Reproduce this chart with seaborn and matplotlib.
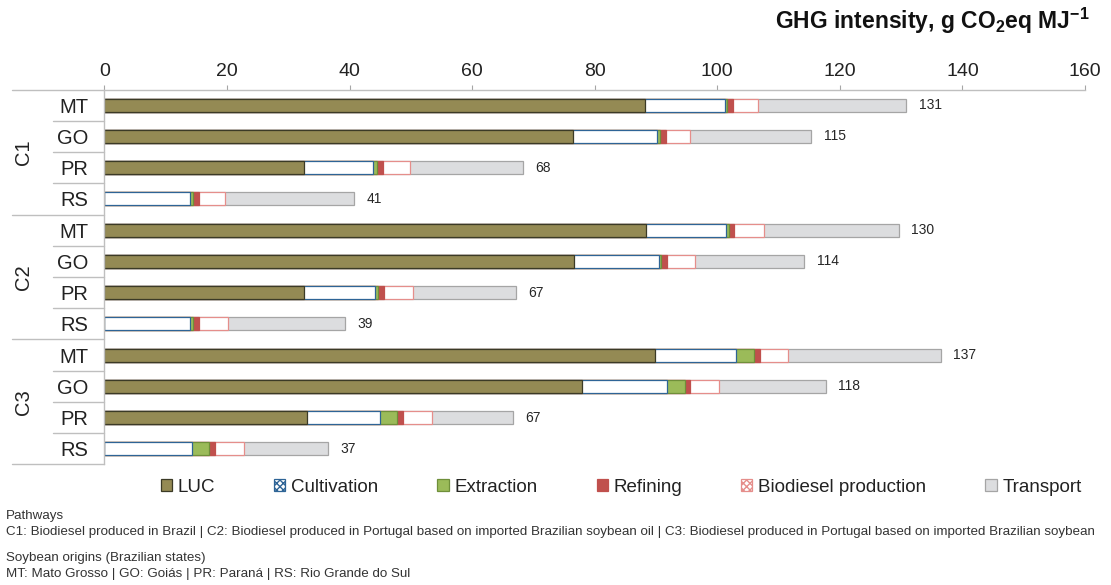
import matplotlib
matplotlib.use("Agg")
import matplotlib.pyplot as plt
from matplotlib.patches import Patch
from matplotlib.transforms import blended_transform_factory
import pandas as pd
import seaborn as sns

# pathways and soybean origins (rows top to bottom)
pathways = ["C1", "C2", "C3"]
states = ["MT", "GO", "PR", "RS"]

# GHG contributions per stage, g CO2eq/MJ
luc = [88.2, 76.5, 32.5, 0.0, 88.4, 76.7, 32.6, 0.0, 89.8, 77.9, 33.1, 0.0]
cultivation = [13.0, 13.6, 11.4, 14.0, 13.0, 13.8, 11.6, 14.0, 13.3, 13.9, 11.8, 14.3]
extraction = [0.4, 0.5, 0.5, 0.4, 0.5, 0.3, 0.4, 0.4, 2.9, 2.9, 2.9, 2.8]
refining = [1.0, 1.0, 1.0, 1.1, 0.9, 1.0, 1.0, 1.0, 0.9, 0.9, 0.9, 1.0]
biodiesel = [4.1, 4.0, 4.4, 4.1, 4.8, 4.6, 4.7, 4.7, 4.6, 4.7, 4.7, 4.7]
transport = [24.1, 19.7, 18.5, 21.1, 22.0, 17.8, 16.8, 19.2, 25.0, 17.4, 13.3, 13.7]
totals = [131, 115, 68, 41, 130, 114, 67, 39, 137, 118, 67, 37]

stages = ["LUC", "Cultivation", "Extraction", "Refining", "Biodiesel production", "Transport"]
face = ["#948A54", "white", "#9BBB59", "#C0504D", "white", "#DCDDDF"]
edge = ["#3B3A26", "#2E6496", "#6F8F3A", "#C0504D", "#E58E8B", "#A5A5A5"]
hatch = [None, "xxxxx", None, None, "xxxxx", None]

rows = [p + "-" + s for p in pathways for s in states]
df = pd.DataFrame({"row": rows, "LUC": luc, "Cultivation": cultivation,
                   "Extraction": extraction, "Refining": refining,
                   "Biodiesel production": biodiesel, "Transport": transport})
cum = df[stages].cumsum(axis=1)

sns.set_style("white")
plt.rcParams["font.family"] = ["Liberation Sans", "DejaVu Sans"]
plt.rcParams["mathtext.fontset"] = "custom"
plt.rcParams["mathtext.rm"] = "Liberation Sans"
plt.rcParams["mathtext.bf"] = "Liberation Sans:bold"

fig = plt.figure(figsize=(11.11, 5.85), dpi=100)
ax = fig.add_axes([0.094, 0.206, 0.8826, 0.641])

# stacked bars: draw the cumulative sums from the longest down
for i in reversed(range(len(stages))):
    sns.barplot(x=cum[stages[i]], y=df["row"], order=rows, orient="h",
                color=face[i], edgecolor=edge[i], linewidth=0.9,
                saturation=1, width=0.42, errorbar=None, ax=ax)

ax.bar_label(ax.containers[0], labels=[str(t) for t in totals],
             padding=9, fontsize=10, color="#262626")

ax.set_xticks(range(0, 161, 20))
ax.xaxis.tick_top()
ax.tick_params(axis="x", top=True, bottom=False, length=3.5, color="#A6A6A6",
               labelsize=14, pad=3, labelcolor="#222222")
ax.set_yticks(range(len(rows)), labels=states * len(pathways))
ax.tick_params(axis="y", left=False, labelsize=14.5, pad=8, labelcolor="#222222")
ax.set_xlabel("")
ax.set_ylabel("")
for s in ["right", "bottom"]:
    ax.spines[s].set_visible(False)
for s in ["top", "left"]:
    ax.spines[s].set_color("#BFBFBF")
    ax.spines[s].set_linewidth(1.0)

# category separators on the left
tr = blended_transform_factory(ax.transAxes, ax.transData)
for k in range(len(rows) + 1):
    y = k - 0.5
    x0 = -0.094 if k % 4 == 0 else -0.0525
    ax.plot([x0, 0], [y, y], color="#BFBFBF", lw=1.0, transform=tr, clip_on=False)
for g, p in enumerate(pathways):
    ax.text(-0.083, g * 4 + 1.5, p, rotation=90, ha="center", va="center",
            fontsize=14.5, color="#222222", transform=tr)

ax.set_xlim(0, 160)
ax.set_ylim(len(rows) - 0.5, -0.5)

fig.text(0.981, 0.964, r"GHG intensity, g CO$_\mathbf{2}$eq MJ$^\mathbf{-1}$",
         ha="right", va="center", fontsize=16.5, fontweight="bold", color="#111111")

handles = [Patch(facecolor=face[i], edgecolor=edge[i], hatch=hatch[i], linewidth=0.9)
           for i in range(len(stages))]
fig.legend(handles, stages, loc="center", bbox_to_anchor=(0.559, 0.167), ncol=6,
           frameon=False, fontsize=13.5, handlelength=0.6, handleheight=0.6,
           handletextpad=0.3, columnspacing=3.15, labelcolor="#222222")

notes = [
    (0.118, "Pathways"),
    (0.090, "C1: Biodiesel produced in Brazil | C2: Biodiesel produced in Portugal based on "
            "imported Brazilian soybean oil | C3: Biodiesel produced in Portugal based on "
            "imported Brazilian soybean"),
    (0.047, "Soybean origins (Brazilian states)"),
    (0.018, "MT: Mato Grosso | GO: Goiás | PR: Paraná | RS: Rio Grande do Sul"),
]
for y, t in notes:
    fig.text(0.005, y, t, ha="left", va="center", fontsize=9.6, color="#333333")

fig.savefig("out.png", dpi=100)
